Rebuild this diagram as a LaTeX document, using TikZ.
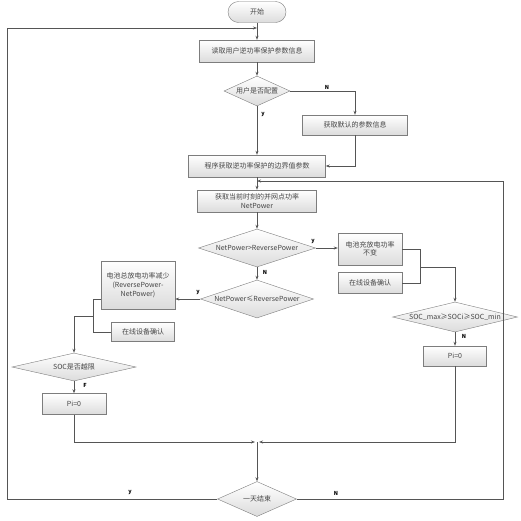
\documentclass[tikz,border=0pt]{standalone}
\usepackage{fontspec}
\setmainfont{Noto Sans CJK SC}
\usepackage{tikz}
\usetikzlibrary{shapes.geometric,arrows.meta}
\definecolor{flowline}{RGB}{85,85,85}
\definecolor{flowedge}{RGB}{125,125,125}
\definecolor{flowtext}{RGB}{70,70,70}
\definecolor{flowshade}{RGB}{220,220,220}

\begin{document}
\begin{tikzpicture}[x=1pt, y=-1pt,
    box/.style={draw=flowedge, top color=white, bottom color=flowshade, align=center,
        inner sep=1pt, text=flowtext, font=\fontsize{7}{9}\selectfont},
    startbox/.style={box, rounded corners=10.5pt},
    decide/.style={diamond, draw=flowedge, top color=white, bottom color=flowshade,
        inner sep=0pt, text=flowtext, font=\fontsize{7}{9}\selectfont},
    flow/.style={draw=flowline, line width=0.9pt},
    arrow/.style={flow, -{Stealth[length=4pt, width=3pt]}},
    lbl/.style={font=\fontsize{5.5}{6}\selectfont\itshape\bfseries, text=black}]
    \useasboundingbox (0,0) rectangle (521,520);

    % main column
    \node[startbox, minimum width=58, minimum height=21] (start) at (257,12) {开始};
    \node[box, minimum width=115, minimum height=22] (readp) at (257,51) {读取用户逆功率保护参数信息};
    \node[decide, aspect=2.2, minimum width=66, minimum height=30] (cfg) at (257,91) {用户是否配置};
    \node[box, minimum width=105, minimum height=20] (deflt) at (355,125) {获取默认的参数信息};
    \node[box, minimum width=137, minimum height=22] (prog) at (257,166) {程序获取逆功率保护的边界值参数};
    \node[box, minimum width=119, minimum height=22, font=\fontsize{7}{8.5}\selectfont] (getnp) at (257,201) {获取当前时刻的并网点功率\\NetPower};
    \node[decide, aspect=3.1, minimum width=117, minimum height=38] (gt) at (257,248) {NetPower>ReversePower};
    \node[decide, aspect=3.0, minimum width=113, minimum height=38] (le) at (257,299) {NetPower≤ReversePower};

    % right branch
    \node[box, minimum width=64, minimum height=32, font=\fontsize{7}{8.5}\selectfont] (keep) at (370,249) {电池充放电功率\\不变};
    \node[box, minimum width=64, minimum height=21] (confR) at (370,283) {在线设备确认};
    \node[decide, aspect=4.2, minimum width=125, minimum height=30] (socr) at (455,317) {SOC\_max≥SOCi≥SOC\_min};
    \node[box, minimum width=63, minimum height=20] (piR) at (455,356) {Pi=0};

    % left branch
    \node[box, minimum width=74, minimum height=48] (reduce) at (138,285) {电池总放电功率减少\\(ReversePower-\\NetPower)};
    \node[box, minimum width=63, minimum height=19] (confL) at (143,332) {在线设备确认};
    \node[decide, aspect=4.4, minimum width=124, minimum height=28] (socl) at (74,367) {SOC是否越限};
    \node[box, minimum width=64, minimum height=21] (piL) at (74,404) {Pi=0};

    \node[decide, aspect=2.25, minimum width=79, minimum height=35] (dayend) at (257,499) {一天结束};

    % joints
    \coordinate (lrail) at (7,28);
    \coordinate (rrail) at (503,181);
    \coordinate (rjoin) at (420,267);
    \coordinate (ljoin) at (93,316);
    \coordinate (merge) at (257,442);

    % connectors
    \draw[arrow] (start) -- (readp);
    \draw[arrow] (readp) -- (cfg);
    \draw[arrow] (cfg) -- (prog);
    \draw[arrow] (cfg.east) -| (deflt.north);
    \draw[arrow] (deflt.south) |- (prog.east);
    \draw[arrow] (prog) -- (getnp);
    \draw[arrow] (getnp) -- (gt);
    \draw[arrow] (gt) -- (le);
    \draw[arrow] (gt.east) -- (keep.west |- gt.east);
    \draw[flow] (keep.east) -| (rjoin |- confR.east) -- (confR.east);
    \draw[arrow] (rjoin) -| (socr.north);
    \draw[arrow] (socr) -- (piR);
    \draw[arrow] (le.west) -- (reduce.east |- le.west);
    \draw[flow] (reduce.west |- le.west) -| (ljoin |- confL.west) -- (confL.west);
    \draw[arrow] (ljoin) -| (socl.north);
    \draw[arrow] (socl) -- (piL);
    \draw[arrow, shorten >=2pt] (piL.south) |- (merge);
    \draw[arrow, shorten >=2pt] (piR.south) |- (merge);
    \draw[arrow] (merge) -- (dayend);
    \draw[arrow] (dayend.west) -| (lrail) -- (start.south |- lrail);
    \draw[arrow] (dayend.east) -| (rrail) -- (prog.south |- rrail);

    % branch labels
    \node[lbl] (nCfg) at (327,87) {N};
    \node[lbl] (yCfg) at (263,115) {y};
    \node[lbl] (yGt) at (313,242) {y};
    \node[lbl] (nGt) at (265,272) {N};
    \node[lbl] (yLe) at (198,293) {y};
    \node[lbl] (fSoc) at (85,385) {F};
    \node[lbl] (nSoc) at (464,336) {N};
    \node[lbl] (yEnd) at (130,493) {y};
    \node[lbl] (nEnd) at (336,493) {N};
\end{tikzpicture}
\end{document}
